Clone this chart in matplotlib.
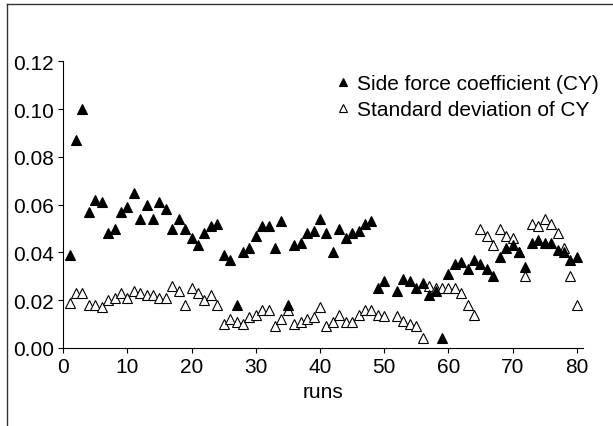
import matplotlib
matplotlib.use("Agg")
import matplotlib.pyplot as plt
from matplotlib.lines import Line2D

plt.rcParams['font.family'] = ['Liberation Sans', 'DejaVu Sans']

# run numbers (run 51 has no data)
runs = [r for r in range(1, 81) if r != 51]

# side force coefficient CY
cy = [0.039, 0.087, 0.100, 0.057, 0.062, 0.061, 0.048, 0.050, 0.057, 0.059,
      0.065, 0.054, 0.060, 0.054, 0.061, 0.058, 0.050, 0.054, 0.050, 0.046,
      0.043, 0.048, 0.051, 0.052, 0.039, 0.037, 0.018, 0.040, 0.042, 0.047,
      0.051, 0.051, 0.042, 0.053, 0.018, 0.043, 0.044, 0.048, 0.049, 0.054,
      0.048, 0.040, 0.050, 0.046, 0.048, 0.049, 0.052, 0.053, 0.025, 0.028,
      0.024, 0.029, 0.028, 0.025, 0.027, 0.022, 0.024, 0.004, 0.031,
      0.035, 0.036, 0.033, 0.037, 0.035, 0.033, 0.030, 0.038, 0.042, 0.043,
      0.040, 0.034, 0.044, 0.045, 0.044, 0.044, 0.041, 0.040, 0.037, 0.038]

# standard deviation of CY
cy_std = [0.019, 0.023, 0.023, 0.018, 0.018, 0.017, 0.020, 0.021, 0.023, 0.021,
          0.024, 0.023, 0.022, 0.022, 0.021, 0.021, 0.026, 0.024, 0.018, 0.025,
          0.023, 0.020, 0.022, 0.018, 0.010, 0.012, 0.011, 0.010, 0.013, 0.014,
          0.016, 0.016, 0.009, 0.012, 0.016, 0.010, 0.011, 0.012, 0.013, 0.017,
          0.009, 0.011, 0.014, 0.011, 0.011, 0.014, 0.016, 0.016, 0.014, 0.0135,
          0.0135, 0.0115, 0.010, 0.009, 0.004, 0.026, 0.025, 0.025, 0.025,
          0.025, 0.023, 0.018, 0.014, 0.050, 0.047, 0.043, 0.050, 0.047, 0.046,
          0.040, 0.030, 0.052, 0.051, 0.054, 0.052, 0.048, 0.042, 0.030, 0.018]

fig = plt.figure(figsize=(6.13, 4.27), dpi=100)
ax = fig.add_axes([63.2 / 613, 78 / 427, 520 / 613, 286.7 / 427])

ax.plot(runs, cy_std, linestyle='none', marker='^', ms=7.5, mfc='white',
        mec='black', mew=0.8, label='Standard deviation of CY', clip_on=False)
ax.plot(runs, cy, linestyle='none', marker='^', ms=7.5, mfc='black',
        mec='black', mew=0.8, label='Side force coefficient (CY)', clip_on=False)

ax.set_xlim(0, 81)
ax.set_ylim(0, 0.12)
ax.set_xticks(range(0, 81, 10))
ax.set_yticks([0, 0.02, 0.04, 0.06, 0.08, 0.10, 0.12])
ax.set_yticklabels(['0.00', '0.02', '0.04', '0.06', '0.08', '0.10', '0.12'])
ax.tick_params(labelsize=15, length=3.5, width=0.8, direction='out', pad=3)
ax.set_xlabel('runs', fontsize=15, labelpad=4)

for s in ['top', 'right']:
    ax.spines[s].set_visible(False)
for s in ['left', 'bottom']:
    ax.spines[s].set_linewidth(0.8)

h, l = ax.get_legend_handles_labels()
ax.legend(h[::-1], l[::-1], loc='upper left', frameon=False, fontsize=15,
          bbox_to_anchor=(336 / 613, 1 - 75 / 427), bbox_transform=fig.transFigure,
          borderpad=0, borderaxespad=0, handlelength=0.7, handletextpad=0.3,
          labelspacing=0.35, markerscale=0.8)

# outer frame lines seen at the top and left of the picture
fig.add_artist(Line2D([6.5 / 613, 1], [1 - 5 / 427, 1 - 5 / 427],
                      transform=fig.transFigure, color='#333333', lw=1))
fig.add_artist(Line2D([6.5 / 613, 6.5 / 613], [0, 1 - 5 / 427],
                      transform=fig.transFigure, color='#333333', lw=1))

fig.savefig('out.png', dpi=100)
